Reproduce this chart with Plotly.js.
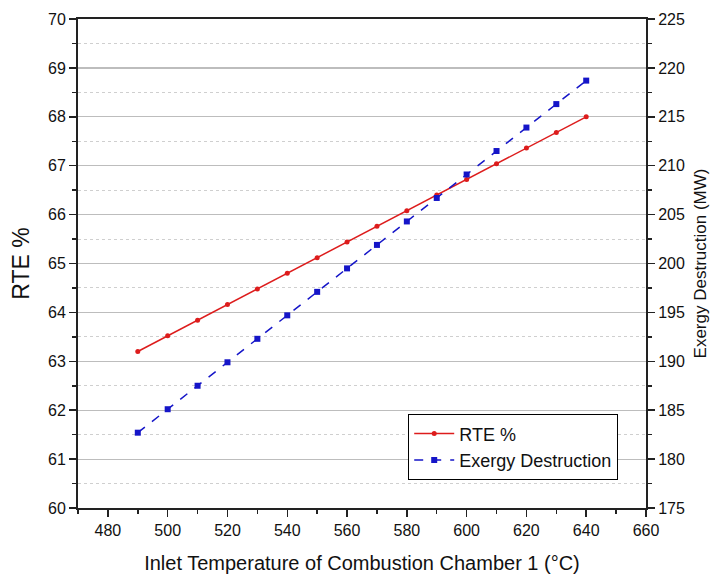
<!DOCTYPE html>
<html><head><meta charset="utf-8">
<script src="https://cdn.plot.ly/plotly-3.0.1.min.js"></script>
<style>body{margin:0;padding:0;background:#fff}#chart{width:712px;height:585px}</style>
</head><body><div id="chart"></div>
<script>
var temperature = [490,500,510,520,530,540,550,560,570,580,590,600,610,620,630,640];
var rte = [63.20,63.52,63.84,64.16,64.48,64.80,65.12,65.44,65.76,66.08,66.40,66.72,67.04,67.36,67.68,68.00];
var exergy = [182.7,185.1,187.5,189.9,192.3,194.7,197.1,199.5,201.9,204.3,206.7,209.1,211.5,213.9,216.3,218.7];
var xTicks = [480,500,520,540,560,580,600,620,640,660];

var font = {family: 'Liberation Sans, Arial, sans-serif', color: '#111'};
var traces = [
  {x: temperature, y: rte, name: 'RTE %', type: 'scatter', mode: 'lines+markers',
   line: {color: '#dd1c1c', width: 1.5}, marker: {color: '#dd1c1c', size: 5, symbol: 'circle'}},
  {x: temperature, y: exergy, name: 'Exergy Destruction', type: 'scatter', mode: 'lines+markers', yaxis: 'y2',
   line: {color: '#1515c8', width: 1.5, dash: 'dash'}, marker: {color: '#1515c8', size: 6, symbol: 'square'}}
];
var layout = {
  width: 712, height: 585,
  margin: {l: 78, r: 66, t: 19, b: 77},
  paper_bgcolor: '#fff', plot_bgcolor: '#fff',
  font: Object.assign({size: 16}, font),
  showlegend: true,
  legend: {x: 0.581, y: 0.192, xanchor: 'left', yanchor: 'top', bgcolor: '#fff',
    bordercolor: '#000', borderwidth: 1.2, font: Object.assign({size: 18}, font),
    tracegroupgap: 2, itemwidth: 40},
  xaxis: {range: [470, 660], tickvals: xTicks, ticks: 'outside', ticklen: 7, tickwidth: 1.5, tickcolor: '#222',
    showline: true, linecolor: '#222', linewidth: 2, mirror: true, showgrid: false, zeroline: false,
    tickfont: Object.assign({size: 16}, font),
    minor: {dtick: 10, tick0: 470, ticks: 'outside', ticklen: 4, tickwidth: 1.5, tickcolor: '#222', showgrid: false},
    title: {text: 'Inlet Temperature of Combustion Chamber 1 (°C)', font: Object.assign({size: 20}, font), standoff: 18}},
  yaxis: {range: [60, 70], dtick: 1, tick0: 60, ticks: 'outside', ticklen: 7, tickwidth: 1.5, tickcolor: '#222',
    showline: true, linecolor: '#222', linewidth: 2, showgrid: true, gridcolor: '#bdbdbd', gridwidth: 1.2, zeroline: false,
    tickfont: Object.assign({size: 16}, font),
    minor: {dtick: 0.5, ticks: 'outside', ticklen: 4, tickwidth: 1.5, tickcolor: '#222', showgrid: true,
      gridcolor: '#cfcfcf', griddash: 'dot', gridwidth: 1},
    title: {text: 'RTE %', font: Object.assign({size: 23}, font), standoff: 12}},
  yaxis2: {range: [175, 225], dtick: 5, tick0: 175, overlaying: 'y', side: 'right', ticks: 'outside', ticklen: 7,
    tickwidth: 1.5, tickcolor: '#222', showline: true, linecolor: '#222', linewidth: 2, showgrid: false, zeroline: false,
    tickfont: Object.assign({size: 16}, font),
    minor: {dtick: 2.5, ticks: 'outside', ticklen: 4, tickwidth: 1.5, tickcolor: '#222', showgrid: false},
    title: {text: 'Exergy Destruction (MW)', font: Object.assign({size: 17}, font), standoff: 10}}
};
Plotly.newPlot('chart', traces, layout, {displayModeBar: false, staticPlot: true});
</script></body></html>
